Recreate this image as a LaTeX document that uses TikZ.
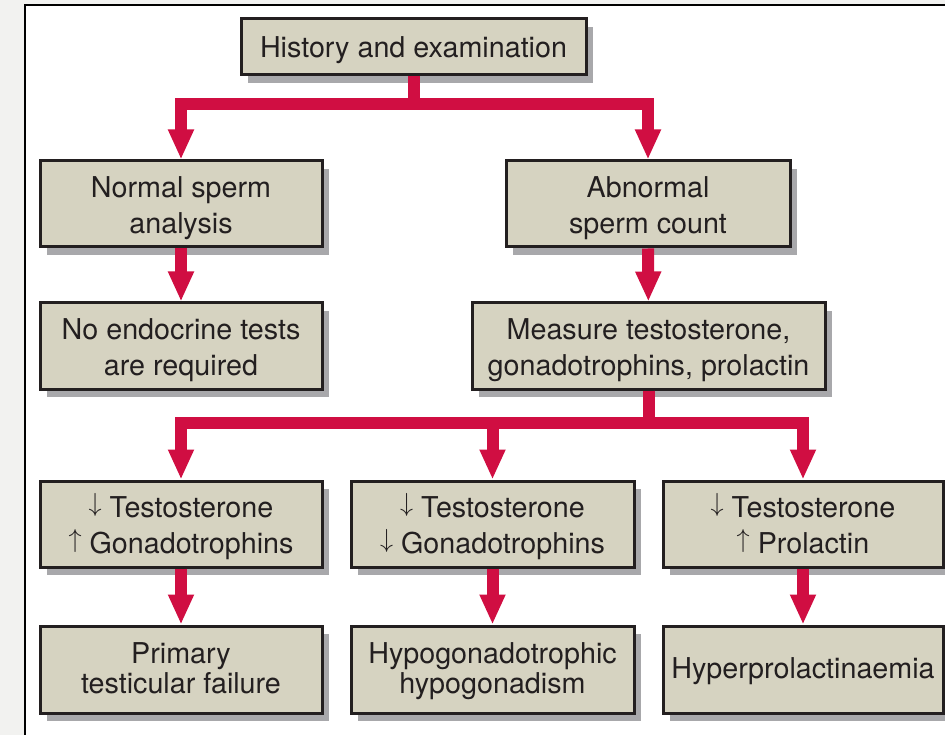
\documentclass[tikz,border=0pt]{standalone}
\usepackage{fontspec}
\setmainfont{TeX Gyre Heros}
\usetikzlibrary{arrows.meta,shadows}
\definecolor{flowred}{RGB}{208,14,66}
\definecolor{boxfill}{RGB}{214,211,193}
\definecolor{boxshadow}{RGB}{168,168,171}
\definecolor{pagegray}{RGB}{242,242,240}
\definecolor{inkgray}{RGB}{35,31,32}
\newcommand\arrdn{\smash{\raisebox{5.5pt}{\scalebox{1.05}{$\downarrow$}}}}
\newcommand\arrup{\smash{\raisebox{5.5pt}{\scalebox{1.05}{$\uparrow$}}}}
\newcommand\stack[2][-10.5pt]{\raisebox{#1}[0pt][0pt]{\begin{tabular}{@{}c@{}}#2\end{tabular}}}

\begin{document}
\begin{tikzpicture}[x=1pt,y=-1pt,
        box/.style = {draw=inkgray, line width=3pt, fill=boxfill, text=inkgray,
            inner sep=0pt, font=\fontsize{28.7}{36}\selectfont,
            general shadow={fill=boxshadow, shadow xshift=7pt, shadow yshift=-8pt}},
        tight/.style = {font=\fontsize{28.7}{30}\selectfont},
        flow/.style = {draw=flowred, line width=12pt, line join=miter, -{Triangle[width=24pt,length=30pt]}},
        ]
        \useasboundingbox (0,0) rectangle (945,735);
        \fill[pagegray] (0,0) rectangle (945,735);
        \filldraw[fill=white, draw=black, line width=2pt] (25,5.5) rectangle (970,760);

        \node[box, minimum width=345pt, minimum height=56pt] (hist) at (413.5,47) {\stack[-10pt]{History and examination}};
        \node[box, minimum width=282pt, minimum height=86pt] (normal) at (181,204) {\stack{Normal sperm\\analysis}};
        \node[box, minimum width=284pt, minimum height=86pt] (abn) at (648,204) {\stack{Abnormal\\sperm count}};
        \node[box, minimum width=282pt, minimum height=86pt] (noendo) at (181,346) {\stack{No endocrine tests\\are required}};
        \node[box, minimum width=353pt, minimum height=86pt] (measure) at (648.5,346) {\stack{Measure testosterone,\\gonadotrophins, prolactin}};
        \node[box, minimum width=282pt, minimum height=86pt] (lowhigh) at (181,524) {\stack{\arrdn\ Testosterone\\\arrup\ Gonadotrophins}};
        \node[box, minimum width=283pt, minimum height=86pt] (lowlow) at (492.5,524) {\stack{\arrdn\ Testosterone\\\arrdn\ Gonadotrophins}};
        \node[box, minimum width=280pt, minimum height=86pt] (lowprl) at (803,524) {\stack{\arrdn\ Testosterone\\\arrup\ Prolactin}};
        \node[box, tight, minimum width=282pt, minimum height=87pt] (primary) at (181,669.5) {\stack[-9pt]{Primary\\testicular failure}};
        \node[box, tight, minimum width=283pt, minimum height=87pt] (hypogo) at (492.5,669.5) {\stack[-9pt]{Hypogonadotrophic\\hypogonadism}};
        \node[box, tight, minimum width=280pt, minimum height=87pt] (hyperprl) at (803,669.5) {\stack[-9pt]{Hyperprolactinaemia}};

        \coordinate (split1) at (413.5,104);
        \coordinate (split2) at (648.5,423);

        \draw[flow] (hist) -- (split1) -| (normal);
        \draw[flow] (hist) -- (split1) -| (abn);
        \draw[flow] (normal) -- (noendo);
        \draw[flow] (abn) -- (measure);
        \draw[flow] (measure) -- (split2) -| (lowhigh);
        \draw[flow] (measure) -- (split2) -| (lowlow);
        \draw[flow] (measure) -- (split2) -| (lowprl);
        \draw[flow] (lowhigh) -- (primary);
        \draw[flow] (lowlow) -- (hypogo);
        \draw[flow] (lowprl) -- (hyperprl);
    \end{tikzpicture}
\end{document}
